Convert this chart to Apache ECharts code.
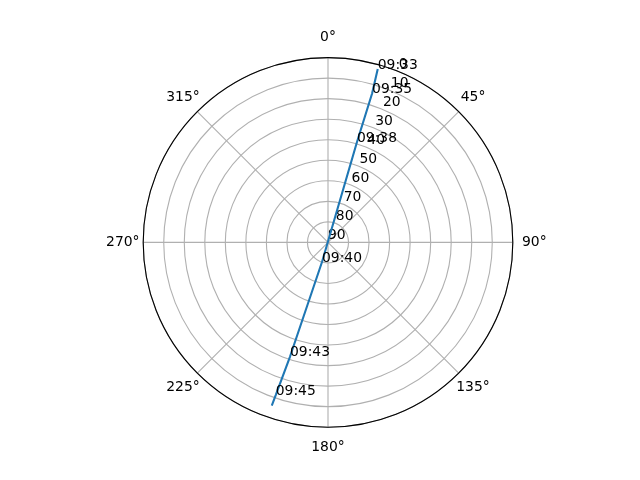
<!DOCTYPE html>
<html lang="en">
<head>
    <meta charset="utf-8">
    <title>Polar pass plot</title>
    <script src="https://cdn.jsdelivr.net/npm/echarts@6.0.0/dist/echarts.min.js"></script>
    <style type="text/css">
        html, body {
            width: 100%;
            height: 100%;
            margin: 0px;
            padding: 0px;
            background: #ffffff;
        }

        #main {
            width: 640px;
            height: 480px;
        }
    </style>
</head>
<body>
<div id="main"></div>
<script>
    // pass data: time labels, azimuth (deg, clockwise from north), elevation (deg)
    var times = ['09:33', '09:35', '09:38', '09:40', '09:43', '09:45', ''];
    var azimuth = [16.0, 16.5, 16.1, 197.0, 198.4, 198.9, 199.0];
    var elevation = [2.1, 14.4, 39.1, 80.0, 31.3, 11.4, 5.9];

    // axis ticks
    var angleTicks = [0, 45, 90, 135, 180, 225, 270, 315];
    var radiusTicks = [0, 10, 20, 30, 40, 50, 60, 70, 80, 90];

    var font = 'DejaVu Sans';
    var fs = 13.9;

    var points = [];
    for (var i = 0; i < times.length; i++) {
        points.push([elevation[i], azimuth[i]]);
    }

    // per-label padding so the angle labels sit centred around the circle
    var labelPad = {
        0: [0, 0, 18, 0],
        45: [0, 0, 10.5, 5.5],
        90: [0, 0, 0, 14],
        135: [10.5, 0, 0, 1],
        180: [18, 0, 0, 0],
        225: [10.5, 1, 0, 0],
        270: [0, 8.5, 0, 0],
        315: [0, 1, 10.5, 0]
    };
    var rich = {};
    angleTicks.forEach(function (a) {
        rich['a' + a] = {
            padding: labelPad[a],
            fontFamily: font,
            fontSize: fs,
            color: '#000'
        };
    });

    var myChart = echarts.init(document.getElementById('main'));

    var option = {
        backgroundColor: '#ffffff',
        animation: false,
        polar: [
            {center: [328, 242.4], radius: 184.8},
            {center: [328, 242.4], radius: 184.8}
        ],
        angleAxis: [
            {
                polarIndex: 0,
                type: 'value',
                min: 0,
                max: 360,
                interval: 45,
                startAngle: 90,
                clockwise: true,
                axisLine: {lineStyle: {color: '#000', width: 1.1}},
                axisTick: {show: false},
                splitLine: {show: true, lineStyle: {color: '#b0b0b0', width: 1.1}},
                axisLabel: {
                    margin: -4.8,
                    fontFamily: font,
                    fontSize: fs,
                    color: '#000',
                    formatter: function (v) {
                        return '{a' + v + '|' + v + '°}';
                    },
                    rich: rich
                }
            },
            {
                // only used to place the radial labels at 22.5°
                polarIndex: 1,
                type: 'value',
                min: 0,
                max: 360,
                startAngle: 67.5,
                clockwise: true,
                show: false
            }
        ],
        radiusAxis: [
            {
                polarIndex: 0,
                type: 'value',
                min: 0,
                max: 90,
                interval: 10,
                inverse: true,
                axisLine: {show: false},
                axisTick: {show: false},
                axisLabel: {show: false},
                splitLine: {show: true, lineStyle: {color: '#b0b0b0', width: 1.1}}
            },
            {
                polarIndex: 1,
                type: 'value',
                min: 0,
                max: 90,
                interval: 10,
                inverse: true,
                axisLine: {show: false},
                axisTick: {show: false},
                splitLine: {show: false},
                axisLabel: {
                    margin: 0,
                    align: 'left',
                    verticalAlign: 'bottom',
                    fontFamily: font,
                    fontSize: fs,
                    color: '#000',
                    formatter: function (v) {
                        return radiusTicks.indexOf(v) >= 0 ? String(v) : '';
                    }
                }
            }
        ],
        series: [
            {
                type: 'line',
                coordinateSystem: 'polar',
                polarIndex: 0,
                data: points,
                symbol: 'circle',
                symbolSize: 0,
                showSymbol: true,
                lineStyle: {color: '#1f77b4', width: 2.1},
                itemStyle: {color: '#1f77b4'},
                label: {
                    show: true,
                    position: [0, 0],
                    align: 'left',
                    verticalAlign: 'bottom',
                    offset: [0, 3],
                    fontFamily: font,
                    fontSize: fs,
                    color: '#000',
                    formatter: function (p) {
                        return times[p.dataIndex];
                    }
                },
                emphasis: {disabled: true},
                z: 5
            }
        ]
    };

    myChart.setOption(option);
</script>
</body>
</html>
